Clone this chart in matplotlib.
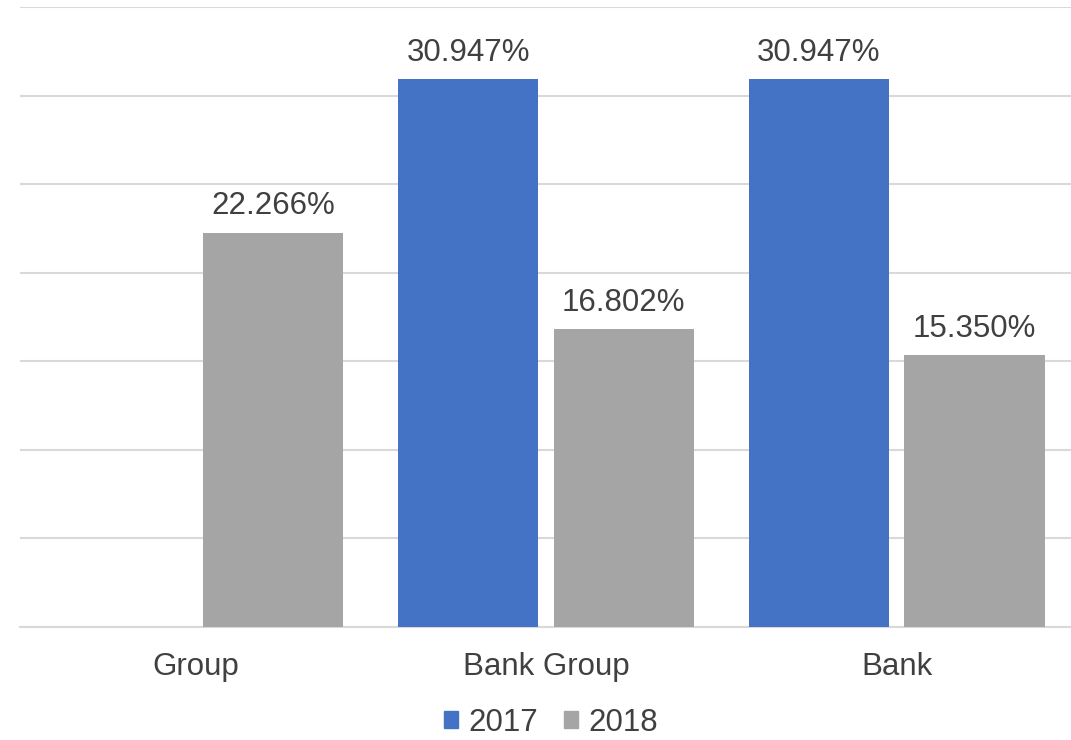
import numpy as np
import matplotlib.pyplot as plt
from matplotlib.patches import Patch

categories = ['Group', 'Bank Group', 'Bank']
values_2017 = [np.nan, 30.947, 30.947]
values_2018 = [22.266, 16.802, 15.350]
series_names = ['2017', '2018']

blue = '#4472C4'
gray = '#A5A5A5'
text_color = '#404040'

plt.rcParams['font.family'] = ['Liberation Sans', 'DejaVu Sans']

fig = plt.figure(figsize=(10.71, 7.4), dpi=100)
ax = fig.add_axes([20 / 1071, (740 - 627) / 740, 1052 / 1071, 620 / 740])

x = np.arange(len(categories))
width = 0.4
offset = 0.222

b1 = ax.bar(x - offset, values_2017, width, color=blue, zorder=3)
b2 = ax.bar(x + offset, values_2018, width, color=gray, zorder=3)

for bars, vals in [(b1, values_2017), (b2, values_2018)]:
    for rect, v in zip(bars, vals):
        if np.isnan(v):
            continue
        ax.annotate(f'{v:.3f}%', (rect.get_x() + rect.get_width() / 2, v),
                    xytext=(0, 8), textcoords='offset points',
                    ha='center', va='bottom', fontsize=22.5, color=text_color)

ax.set_xlim(-0.5, 2.5)
ax.set_ylim(0, 35)
ax.set_yticks(np.arange(0, 36, 5))
ax.yaxis.grid(True, color='#D9D9D9', linewidth=1.5, zorder=0)
ax.tick_params(axis='y', left=False, labelleft=False)
ax.tick_params(axis='x', length=0, pad=18, labelsize=22.5, labelcolor=text_color)
ax.set_xticks(x)
ax.set_xticklabels(categories)
for s in ['top', 'right', 'left']:
    ax.spines[s].set_visible(False)
ax.spines['bottom'].set_color('#D9D9D9')
ax.spines['bottom'].set_linewidth(1.5)

handles = [Patch(color=blue), Patch(color=gray)]
fig.legend(handles, series_names, loc='center', bbox_to_anchor=(551 / 1071, 1 - 723 / 740),
           ncol=2, frameon=False, fontsize=22.5, labelcolor=text_color,
           handlelength=0.45, handleheight=0.45, handletextpad=0.35, columnspacing=0.8)

fig.savefig('out.png', dpi=100)
